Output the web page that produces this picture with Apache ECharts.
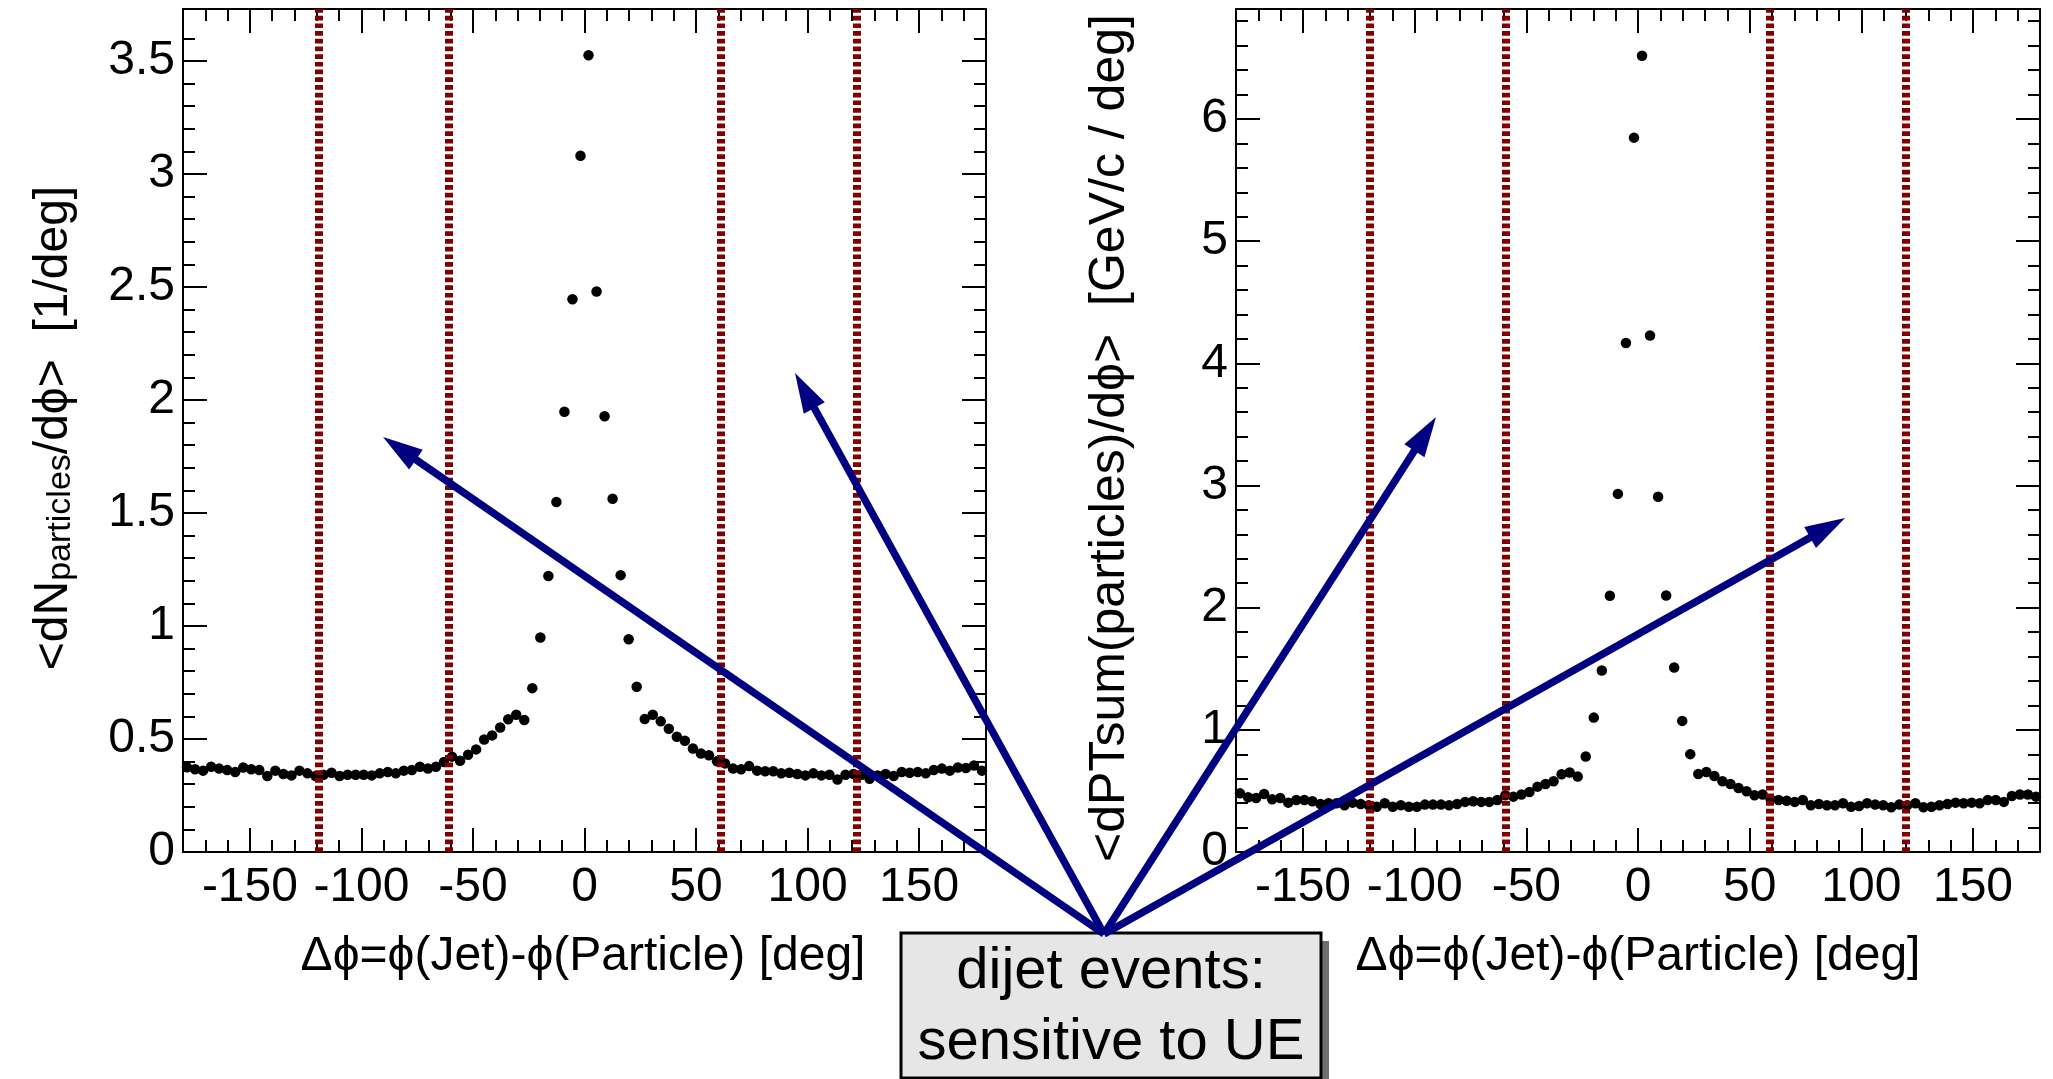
<!DOCTYPE html>
<html><head><meta charset="utf-8">
<script src="https://cdn.jsdelivr.net/npm/echarts@6/dist/echarts.min.js"></script>
<style>html,body{margin:0;padding:0;background:#fff}#c{width:2053px;height:1079px}</style>
</head><body><div id="c"></div><script>
// bin centres of the 100 histogram bins (deg)
const phiCenters = [-178.2,-174.6,-171.0,-167.4,-163.8,-160.2,-156.6,-153.0,-149.4,-145.8,
 -142.2,-138.6,-135.0,-131.4,-127.8,-124.2,-120.6,-117.0,-113.4,-109.8,
 -106.2,-102.6,-99.0,-95.4,-91.8,-88.2,-84.6,-81.0,-77.4,-73.8,
 -70.2,-66.6,-63.0,-59.4,-55.8,-52.2,-48.6,-45.0,-41.4,-37.8,
 -34.2,-30.6,-27.0,-23.4,-19.8,-16.2,-12.6,-9.0,-5.4,-1.8,
 1.8,5.4,9.0,12.6,16.2,19.8,23.4,27.0,30.6,34.2,
 37.8,41.4,45.0,48.6,52.2,55.8,59.4,63.0,66.6,70.2,
 73.8,77.4,81.0,84.6,88.2,91.8,95.4,99.0,102.6,106.2,
 109.8,113.4,117.0,120.6,124.2,127.8,131.4,135.0,138.6,142.2,
 145.8,149.4,153.0,156.6,160.2,163.8,167.4,171.0,174.6,178.2];
// <dN/dphi> [1/deg]
const dNdphi = [0.375,0.366,0.360,0.377,0.369,0.363,0.354,0.374,0.366,0.363,
 0.336,0.360,0.345,0.339,0.360,0.348,0.336,0.342,0.351,0.336,
 0.342,0.342,0.342,0.339,0.348,0.354,0.348,0.360,0.363,0.377,
 0.369,0.377,0.398,0.422,0.404,0.430,0.454,0.498,0.516,0.551,
 0.587,0.607,0.584,0.725,0.949,1.221,1.549,1.948,2.446,3.081,
 3.525,2.480,1.928,1.563,1.225,0.941,0.731,0.588,0.607,0.578,
 0.545,0.510,0.492,0.458,0.436,0.428,0.401,0.392,0.369,0.366,
 0.380,0.360,0.357,0.357,0.348,0.351,0.345,0.339,0.348,0.339,
 0.342,0.321,0.342,0.345,0.342,0.324,0.339,0.345,0.336,0.354,
 0.351,0.354,0.348,0.363,0.369,0.360,0.374,0.372,0.383,0.360];
// <dPTsum/dphi> [GeV/c / deg]
const dPTdphi = [0.480,0.448,0.442,0.475,0.431,0.442,0.404,0.426,0.426,0.415,
 0.393,0.399,0.399,0.382,0.404,0.393,0.382,0.371,0.399,0.371,
 0.382,0.371,0.371,0.388,0.388,0.388,0.382,0.393,0.410,0.415,
 0.410,0.410,0.426,0.464,0.453,0.470,0.491,0.535,0.557,0.579,
 0.636,0.650,0.617,0.781,1.100,1.485,2.097,2.931,4.166,5.847,
 6.518,4.228,2.908,2.099,1.510,1.073,0.801,0.639,0.655,0.622,
 0.579,0.557,0.524,0.497,0.464,0.470,0.431,0.426,0.420,0.410,
 0.426,0.382,0.393,0.382,0.382,0.399,0.371,0.377,0.399,0.388,
 0.382,0.366,0.388,0.382,0.399,0.366,0.371,0.382,0.393,0.404,
 0.399,0.404,0.399,0.426,0.426,0.410,0.459,0.470,0.470,0.453];
const xTickLabels = [-150,-100,-50,0,50,100,150];
const yLeftTicks = [0,0.5,1,1.5,2,2.5,3,3.5];
const yRightTicks = [0,1,2,3,4,5,6];
const regionLinesLeft = [-119,-61,61,122];
const regionLinesRight = [-120,-59,59,120];
const xTitle = 'Δϕ=ϕ(Jet)-ϕ(Particle) [deg]';
const boxLines = ['dijet events:', 'sensitive to UE'];

const FONT = '"Liberation Sans", Arial, Helvetica, "DejaVu Sans", sans-serif';
function minorList(min, max, step, majorStep){
  const out=[]; const n=Math.round((max-min)/step);
  for(let i=1;i<n;i++){const v=+(min+i*step).toFixed(4); if(Math.abs(v/majorStep-Math.round(v/majorStep))>1e-6) out.push(v);}
  return out;
}
const xMinor = minorList(-180,180,10,50);
const yLeftMinor = minorList(0,3.73,0.1,0.5);
const yRightMinor = minorList(0,6.9,0.2,1);

const grids = [
  {left:183, top:9, width:803, height:843},
  {left:1236, top:9, width:804, height:843}
];
const xAxes=[], yAxes=[];
function addAxes(list, gi, pos, min, max, majors, minors, showLabels){
  const base = {gridIndex:gi, type:'value', min:min, max:max, position:pos, splitLine:{show:false}, animation:false};
  const idx = list.length;
  list.push(Object.assign({}, base, {
    axisLine:{show:true, onZero:false, lineStyle:{color:'#000', width:2}},
    axisTick:{show:true, inside:true, length:24, customValues:majors, lineStyle:{color:'#000', width:2}},
    axisLabel:{show:showLabels, customValues:majors, fontSize:48, fontFamily:FONT, color:'#000', margin:(pos==='bottom'||pos==='top')?12:8,
      formatter:(v)=>String(v)}
  }));
  list.push(Object.assign({}, base, {
    axisLine:{show:false, onZero:false},
    axisTick:{show:true, inside:true, length:12, customValues:minors, lineStyle:{color:'#000', width:2}},
    axisLabel:{show:false}
  }));
  return idx;
}
const xL = addAxes(xAxes,0,'bottom',-180,180,xTickLabels,xMinor,true);
addAxes(xAxes,0,'top',-180,180,xTickLabels,xMinor,false);
const xR = addAxes(xAxes,1,'bottom',-180,180,xTickLabels,xMinor,true);
addAxes(xAxes,1,'top',-180,180,xTickLabels,xMinor,false);
const yL = addAxes(yAxes,0,'left',0,3.73,yLeftTicks,yLeftMinor,true);
addAxes(yAxes,0,'right',0,3.73,yLeftTicks,yLeftMinor,false);
const yR = addAxes(yAxes,1,'left',0,6.9,yRightTicks,yRightMinor,true);
addAxes(yAxes,1,'right',0,6.9,yRightTicks,yRightMinor,false);

function pts(vals){ return phiCenters.map((x,i)=>[x, vals[i]]); }
function regionSeries(xi, yi, lines){
  return {type:'line', xAxisIndex:xi, yAxisIndex:yi, data:[], z:5, silent:true,
    markLine:{silent:true, symbol:['none','none'], animation:false, label:{show:false},
      lineStyle:{color:'#800000', width:8, type:[4.7,3], opacity:1},
      data: lines.map(v=>({xAxis:v}))}};
}
const dotStyle = {color:'#000', opacity:1};
const series = [
  {type:'scatter', xAxisIndex:xL, yAxisIndex:yL, data:pts(dNdphi), symbol:'circle', symbolSize:10.5, itemStyle:dotStyle, z:3, animation:false},
  {type:'scatter', xAxisIndex:xR, yAxisIndex:yR, data:pts(dPTdphi), symbol:'circle', symbolSize:10.5, itemStyle:dotStyle, z:3, animation:false},
  regionSeries(xL, yL, regionLinesLeft),
  regionSeries(xR, yR, regionLinesRight)
];

// annotation arrows (pixel positions of the overlay drawing)
const arrowOrigin = [1104, 934];
const arrowTips = [[383,437],[795,373],[1436,417],[1845,518]];
function arrow(x0,y0,x1,y1){
  const dx=x1-x0, dy=y1-y0, L=Math.hypot(dx,dy), ux=dx/L, uy=dy/L;
  const hl=40, hw=12;
  const bx=x1-ux*hl, by=y1-uy*hl;
  return [
    {type:'line', z:100, shape:{x1:x0,y1:y0,x2:x1-ux*hl*0.6,y2:y1-uy*hl*0.6}, style:{stroke:'#000080', lineWidth:7.5}},
    {type:'polygon', z:101, shape:{points:[[x1,y1],[bx-uy*hw,by+ux*hw],[bx+uy*hw,by-ux*hw]]}, style:{fill:'#000080'}}
  ];
}
const graphics = [];
arrowTips.forEach(t=>graphics.push(...arrow(arrowOrigin[0],arrowOrigin[1],t[0],t[1])));
graphics.push({type:'rect', z:90, shape:{x:909,y:941,width:420,height:145}, style:{fill:'#6e6e6e'}});
graphics.push({type:'rect', z:91, shape:{x:901,y:933,width:420,height:145}, style:{fill:'#e6e6e6', stroke:'#000', lineWidth:3}});
graphics.push({type:'text', z:102, x:1111, y:972, style:{text:boxLines[0], font:'58px '+FONT, fill:'#000', align:'center', verticalAlign:'middle'}});
graphics.push({type:'text', z:102, x:1111, y:1043, style:{text:boxLines[1], font:'58px '+FONT, fill:'#000', align:'center', verticalAlign:'middle'}});
// axis titles
graphics.push({type:'text', z:50, x:583, y:957, style:{text:xTitle, font:'48px '+FONT, fill:'#000', align:'center', verticalAlign:'middle'}});
graphics.push({type:'text', z:50, x:1638, y:957, style:{text:xTitle, font:'48px '+FONT, fill:'#000', align:'center', verticalAlign:'middle'}});
graphics.push({type:'text', z:50, x:48, y:428, rotation:Math.PI/2, style:{
  text:'{m|<dN}{s|particles}{m|/dϕ>  [1/deg]}', align:'center', verticalAlign:'middle',
  rich:{m:{font:'48px '+FONT, fill:'#000', lineHeight:60, verticalAlign:'bottom'},
        s:{font:'34px '+FONT, fill:'#000', lineHeight:34, verticalAlign:'bottom', padding:[18,0,0,0]}}}});
graphics.push({type:'text', z:50, x:1110, y:438, rotation:Math.PI/2, style:{
  text:'<dPTsum(particles)/dϕ>  [GeV/c / deg]', font:'50px '+FONT, fill:'#000', align:'center', verticalAlign:'middle'}});

const chart = echarts.init(document.getElementById('c'), null, {renderer:'canvas'});
chart.setOption({
  backgroundColor:'#ffffff',
  animation:false,
  grid:grids,
  xAxis:xAxes,
  yAxis:yAxes,
  series:series,
  graphic:graphics
});
</script></body></html>
